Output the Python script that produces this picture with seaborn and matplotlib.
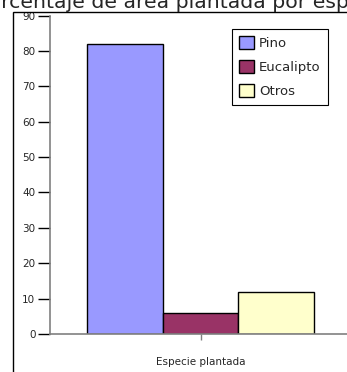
import numpy as np
import pandas as pd
import seaborn as sns
import matplotlib.pyplot as plt
from matplotlib.patches import Rectangle

sns.set_theme(style="white")
plt.rcParams['font.family'] = ['DejaVu Sans']

categoria = ["Especie plantada"]
especies = ["Pino", "Eucalipto", "Otros"]
porcentajes = [82, 6, 12]
colores = ["#9999FF", "#993366", "#FFFFCC"]
titulo = "Porcentaje de área plantada por especie"

data = pd.DataFrame({
    "Categoria": categoria * len(especies),
    "Especie": especies,
    "Porcentaje": porcentajes,
})

W, H = 347, 372
fig = plt.figure(figsize=(W / 100, H / 100), dpi=100)
ax = fig.add_axes([50 / W, (H - 334) / H, 301 / W, (334 - 15.5) / H])

sns.barplot(data=data, x="Categoria", y="Porcentaje", hue="Especie",
            hue_order=especies, palette=colores, width=0.754,
            edgecolor="black", linewidth=1, saturation=1, ax=ax)

ax.set_xlim(-0.5, 0.5)
ax.set_ylim(0, 90)
ax.set_yticks(np.arange(0, 91, 10))
ax.set_xlabel("")
ax.set_ylabel("")
for s in ["top", "right"]:
    ax.spines[s].set_visible(False)
for s in ["left", "bottom"]:
    ax.spines[s].set_color("#808080")
    ax.spines[s].set_linewidth(1.2)
ax.tick_params(axis="y", direction="out", length=8.5, width=1, color="black",
               labelsize=7.5, pad=2, left=True)
ax.tick_params(axis="x", direction="out", length=4.5, width=1, color="#808080",
               labelsize=7.5, pad=12, bottom=True)

ax.legend(loc="upper left", bbox_to_anchor=(232 / W, (H - 29) / H),
          bbox_transform=fig.transFigure, fontsize=9.5, frameon=True,
          fancybox=False, edgecolor="black", framealpha=1,
          handlelength=1.15, handleheight=1.15, handletextpad=0.35,
          labelspacing=0.75, borderpad=0.55, borderaxespad=0)
ax.get_legend().get_frame().set_linewidth(0.8)

fig.text(184 / W, (H - 8) / H, titulo, ha="center", va="baseline", fontsize=14.7)

fig.patches.append(Rectangle((13 / W, -0.1), 1.2, (H - 12) / H + 0.1,
                             transform=fig.transFigure, fill=False,
                             edgecolor="black", linewidth=1))

fig.savefig("out.png", dpi=100)
